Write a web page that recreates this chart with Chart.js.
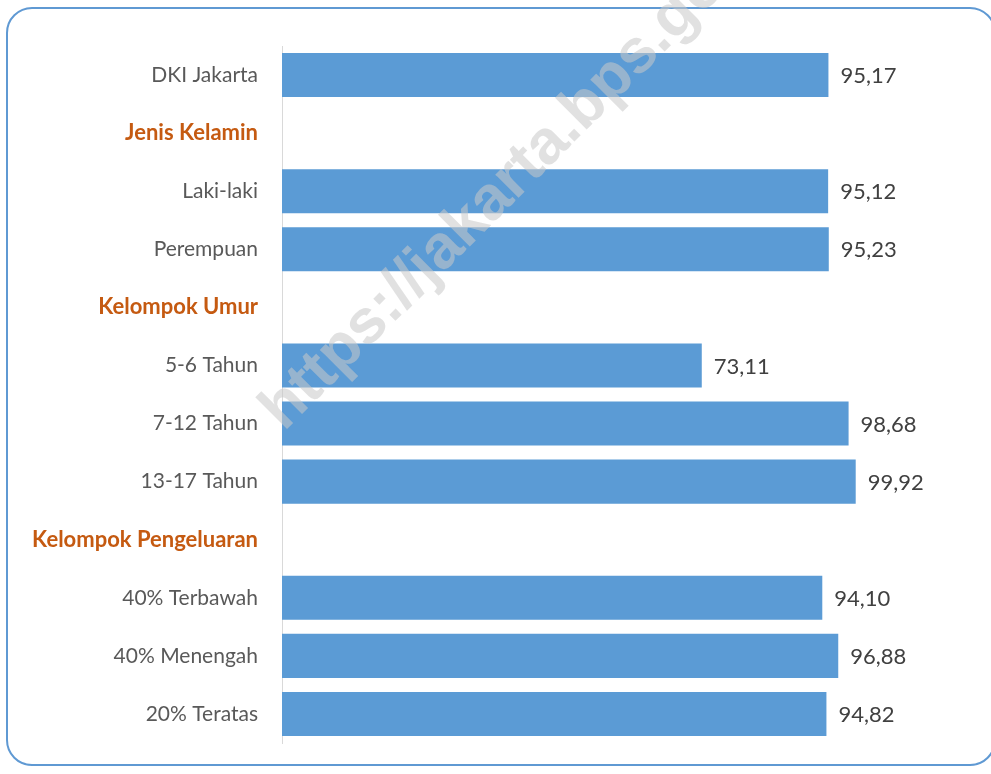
<!DOCTYPE html>
<html>
<head>
<meta charset="utf-8">
<script src="https://cdn.jsdelivr.net/npm/chart.js"></script>
<style>
  html, body { margin: 0; padding: 0; background: #fff; }
  #wrap { position: relative; width: 991px; height: 774px; }
  #frame {
    position: absolute; left: 6px; top: 7px; width: 990px; height: 759px;
    border: 2px solid #5f99d3; border-radius: 26px; box-sizing: border-box;
  }
  canvas { position: absolute; left: 0; top: 0; }
</style>
</head>
<body>
<div id="wrap">
  <div id="frame"></div>
  <canvas id="chart" width="991" height="774"></canvas>
</div>
<script>
// Data
const categories = [
  'DKI Jakarta',
  'Jenis Kelamin',
  'Laki-laki',
  'Perempuan',
  'Kelompok Umur',
  '5-6 Tahun',
  '7-12 Tahun',
  '13-17 Tahun',
  'Kelompok Pengeluaran',
  '40% Terbawah',
  '40% Menengah',
  '20% Teratas'
];
const headers = ['Jenis Kelamin', 'Kelompok Umur', 'Kelompok Pengeluaran'];
const values = [95.17, null, 95.12, 95.23, null, 73.11, 98.68, 99.92, null, 94.10, 96.88, 94.82];

const FONT = 'Lato, "Open Sans", sans-serif';

// value labels to the right of each bar
const valueLabels = {
  id: 'valueLabels',
  afterDatasetsDraw(chart) {
    const ctx = chart.ctx;
    const meta = chart.getDatasetMeta(0);
    ctx.save();
    ctx.font = '22px ' + FONT;
    ctx.fillStyle = '#404040';
    ctx.textAlign = 'left';
    ctx.textBaseline = 'middle';
    meta.data.forEach((bar, i) => {
      const v = values[i];
      if (v == null) return;
      ctx.fillText(v.toFixed(2).replace('.', ','), bar.x + 12, bar.y + 1);
    });
    ctx.restore();
  }
};

// site watermark
const watermark = {
  id: 'watermark',
  afterDraw(chart) {
    const ctx = chart.ctx;
    ctx.save();
    ctx.translate(272, 420);
    ctx.rotate(-45 * Math.PI / 180);
    ctx.font = 'bold 62px "Liberation Sans", Arial, sans-serif';
    ctx.fillStyle = 'rgba(200,200,200,0.55)';
    ctx.textBaseline = 'middle';
    ctx.fillText('https://jakarta.bps.go.id', 0, 0);
    ctx.restore();
  }
};

const ctx = document.getElementById('chart').getContext('2d');
new Chart(ctx, {
  type: 'bar',
  data: {
    labels: categories,
    datasets: [{
      data: values,
      backgroundColor: '#5b9bd5',
      borderWidth: 0,
      categoryPercentage: 0.8,
      barPercentage: 0.95
    }]
  },
  options: {
    indexAxis: 'y',
    responsive: false,
    animation: false,
    layout: { padding: { left: 0, top: 46, bottom: 31, right: 20 } },
    plugins: {
      legend: { display: false },
      tooltip: { enabled: false }
    },
    scales: {
      x: {
        display: false,
        min: 0,
        max: 120
      },
      y: {
        grid: { display: false },
        border: { display: true, color: '#d9d9d9', width: 1 },
        ticks: {
          padding: 16,
          color: c => headers.includes(categories[c.index]) ? '#c55a11' : '#595959',
          font: c => {
            const isHead = headers.includes(categories[c.index]);
            return { family: FONT, size: isHead ? 22 : 21, weight: isHead ? 'bold' : 'normal' };
          }
        },
        afterFit(scale) { scale.width = 282; }
      }
    }
  },
  plugins: [valueLabels, watermark]
});
</script>
</body>
</html>
